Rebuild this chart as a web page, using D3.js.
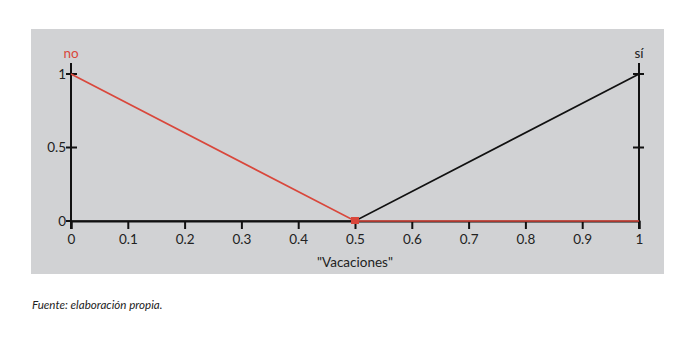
<!DOCTYPE html>
<html><head><meta charset="utf-8">
<script src="https://cdn.jsdelivr.net/npm/d3@7"></script>
<style>body{margin:0;background:#fff;}svg{display:block;font-family:Lato,"Open Sans",sans-serif;}</style>
</head><body>
<svg id="c" width="691" height="338"></svg>
<script>
const xValues = [0, 0.5, 1];
const noValues = [1, 0, 0];
const siValues = [0, 0, 1];
const xTicks = [0,0.1,0.2,0.3,0.4,0.5,0.6,0.7,0.8,0.9,1];
const yTicks = [0, 0.5, 1];
const xTitle = '"Vacaciones"';
const source = "Fuente: elaboración propia.";
const red = "#d9473b";
const fs = 13.5;

const svg = d3.select("#c");
svg.append("rect").attr("x",31).attr("y",29).attr("width",633).attr("height",245).attr("fill","#d1d2d4");

const x = d3.scaleLinear().domain([0,1]).range([71,639]);
const y = d3.scaleLinear().domain([0,1]).range([221,74]);

// x axis
const xa = svg.append("g").attr("transform",`translate(0,${y(0)})`)
  .call(d3.axisBottom(x).tickValues(xTicks).tickSize(8).tickPadding(5).tickFormat(d=>String(d)));
xa.select(".domain").attr("stroke","#111").attr("stroke-width",2);
xa.selectAll(".tick line").attr("stroke","#111").attr("stroke-width",2);
xa.selectAll(".tick text").attr("fill","#222").attr("font-size",fs).attr("font-family","Lato,sans-serif");

// left axis
svg.append("line").attr("x1",x(0)).attr("x2",x(0)).attr("y1",63).attr("y2",y(0)+8).attr("stroke","#111").attr("stroke-width",2);
const lg = svg.append("g");
yTicks.forEach(t=>{
  lg.append("line").attr("x1",x(0)-5).attr("x2",t===0?x(0):x(0)+6).attr("y1",y(t)).attr("y2",y(t)).attr("stroke","#111").attr("stroke-width",2);
  lg.append("text").attr("x",x(0)-5).attr("y",y(t)).attr("dy","0.35em").attr("text-anchor","end").attr("font-size",fs).attr("fill","#222").text(String(t));
});
// right axis
svg.append("line").attr("x1",x(1)).attr("x2",x(1)).attr("y1",63).attr("y2",y(0)+8).attr("stroke","#111").attr("stroke-width",2);
yTicks.filter(t=>t>0).forEach(t=>{
  svg.append("line").attr("x1",x(1)-6).attr("x2",x(1)+5).attr("y1",y(t)).attr("y2",y(t)).attr("stroke","#111").attr("stroke-width",2);
});

svg.append("text").attr("x",x(0)).attr("y",58).attr("text-anchor","middle").attr("font-size",fs).attr("fill",red).text("no");
svg.append("text").attr("x",x(1)).attr("y",58).attr("text-anchor","middle").attr("font-size",fs).attr("fill","#222").text("sí");

const line = d3.line().x(d=>x(d[0])).y(d=>y(d[1]));
const siData = xValues.map((v,i)=>[v,siValues[i]]);
const noData = xValues.map((v,i)=>[v,noValues[i]]);
svg.append("path").attr("d",line(siData)).attr("fill","none").attr("stroke","#111").attr("stroke-width",1.7);
svg.append("path").attr("d",line(noData)).attr("fill","none").attr("stroke",red).attr("stroke-width",1.7);
svg.append("rect").attr("x",x(0.5)-4).attr("y",y(0)-4).attr("width",8).attr("height",7).attr("fill",red);

svg.append("text").attr("x",x(0.5)).attr("y",267).attr("text-anchor","middle").attr("font-size",fs).attr("fill","#222").text(xTitle);
svg.append("text").attr("x",32).attr("y",309).attr("font-size",11.6).attr("font-style","italic").attr("fill","#222").text(source);
</script>
</body></html>
